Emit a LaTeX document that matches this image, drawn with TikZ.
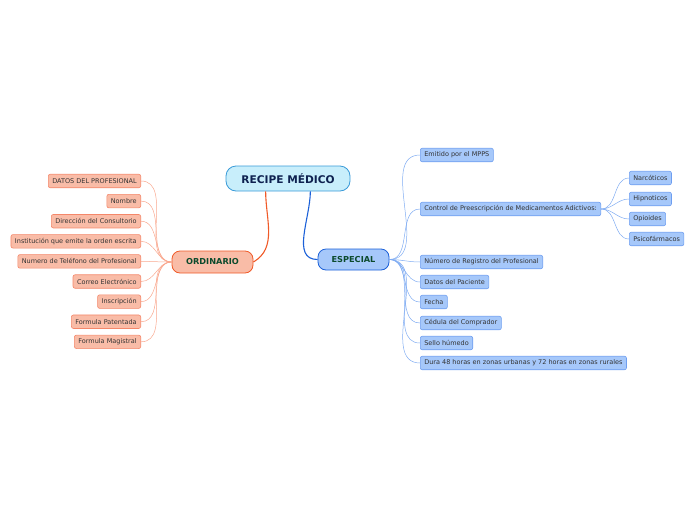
\documentclass[tikz,border=0pt]{standalone}
\usepackage{fontspec}
\setmainfont{DejaVu Sans}
\definecolor{rootfill}{HTML}{C8EEFB}
\definecolor{rootline}{HTML}{3A9BD8}
\definecolor{roottext}{HTML}{0E2150}
\definecolor{ordfill}{HTML}{F9BCA7}
\definecolor{ordline}{HTML}{F05A28}
\definecolor{ordleafline}{HTML}{F4876A}
\definecolor{ordlink}{HTML}{F9A88F}
\definecolor{espfill}{HTML}{A6C8FA}
\definecolor{espline}{HTML}{1B60D8}
\definecolor{espleafline}{HTML}{6E9EF0}
\definecolor{esplink}{HTML}{80ACF2}
\definecolor{maintext}{HTML}{0B4A2C}
\definecolor{leaftext}{HTML}{333333}
\begin{document}
\begin{tikzpicture}[x=1pt,y=1pt,
  leaf/.style={draw,rounded corners=2pt,line width=0.6pt,text=leaftext,
    font=\fontsize{6.5}{7.5}\selectfont,inner xsep=4pt,inner ysep=0pt,minimum height=13.5pt},
  ordleaf/.style={leaf,fill=ordfill,draw=ordleafline,anchor=east},
  espleaf/.style={leaf,fill=espfill,draw=espleafline,anchor=west},
  mainbox/.style={draw,line width=0.8pt,rounded corners=8pt,text=maintext,
    font=\fontsize{8.2}{9}\selectfont\bfseries},
  ordtie/.style={ordlink,line width=0.5pt},
  esptie/.style={esplink,line width=0.5pt}]
\useasboundingbox (0,0) rectangle (696,-520);

\node[draw=rootline,fill=rootfill,line width=0.8pt,rounded corners=10pt,text=roottext,
  font=\fontsize{10.6}{12}\selectfont\bfseries,minimum width=124pt,minimum height=25pt]
  (root) at (288,-178.5) {RECIPE MÉDICO};

\node[mainbox,fill=ordfill,draw=ordline,minimum width=81pt,minimum height=22pt]
  (ord) at (212.5,-262) {ORDINARIO};
\node[mainbox,fill=espfill,draw=espline,minimum width=71pt,minimum height=21pt]
  (esp) at (353.5,-259.5) {ESPECIAL};

\draw[ordline,line width=1.1pt] (root.-150) to[out=-90,in=30] (ord.east);
\draw[espline,line width=1.1pt] (root.-30) to[out=-90,in=180] (esp.west);

% ordinario
\foreach \txt [count=\i] in {DATOS DEL PROFESIONAL,Nombre,Dirección del Consultorio,
  Institución que emite la orden escrita,Numero de Teléfono del Profesional,
  Correo Electrónico,Inscripción,Formula Patentada,Formula Magistral} {
  \node[ordleaf] (o\i) at (141,-160.9-20.1*\i) {\txt};
  \draw[ordtie] (ord.west) to[out=180,in=0] (o\i.east);
}

% especial
\foreach \y/\txt [count=\i] in {155/Emitido por el MPPS,
  209/Control de Preescripción de Medicamentos Adictivos:,
  262/Número de Registro del Profesional,282/Datos del Paciente,302/Fecha,
  323/Cédula del Comprador,343/Sello húmedo,
  363/Dura 48 horas en zonas urbanas y 72 horas en zonas rurales} {
  \node[espleaf] (e\i) at (420,-\y) {\txt};
  \draw[esptie] (esp.east) to[out=0,in=180] (e\i.west);
}

\foreach \y/\txt [count=\i] in {178/Narcóticos,199/Hipnoticos,219/Opioides,239/Psicofármacos} {
  \node[espleaf] (c\i) at (629,-\y) {\txt};
  \draw[esptie] (e2.east) to[out=0,in=180] (c\i.west);
}
\end{tikzpicture}
\end{document}
